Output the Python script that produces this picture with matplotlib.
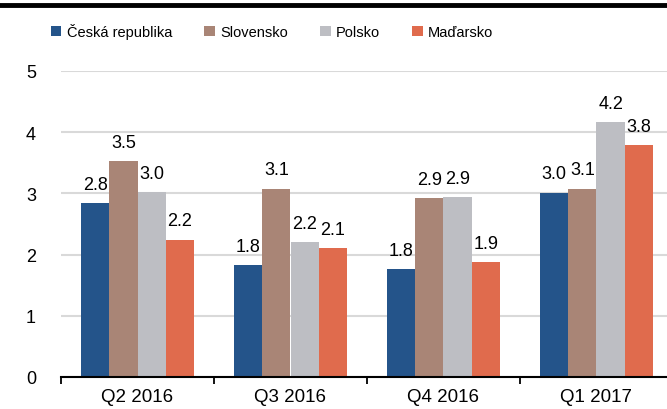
import numpy as np
import matplotlib
matplotlib.use("Agg")
import matplotlib.pyplot as plt
from matplotlib.patches import Patch
from matplotlib.lines import Line2D

plt.rcParams['font.family'] = ['Liberation Sans', 'DejaVu Sans']

quarters = ["Q2 2016", "Q3 2016", "Q4 2016", "Q1 2017"]
countries = ["Česká republika", "Slovensko", "Polsko", "Maďarsko"]
cz = [2.84, 1.83, 1.76, 3.01]
sk = [3.53, 3.08, 2.92, 3.08]
pl = [3.02, 2.20, 2.94, 4.16]
hu = [2.24, 2.10, 1.88, 3.79]
colors = ["#24548a", "#a98576", "#bdbec3", "#e06b4d"]

fig = plt.figure(figsize=(6.67, 4.10), dpi=100)
ax = fig.add_axes([61 / 667, 32 / 410, 612 / 667, 306 / 410])

x = np.arange(len(quarters))
w = 0.184
series = [cz, sk, pl, hu]
for i, (vals, c) in enumerate(zip(series, colors)):
    xs = x + (i - 1.5) * w
    ax.bar(xs, vals, width=w, color=c, zorder=3)
    for xi, v in zip(xs, vals):
        ax.annotate(f"{v:.1f}", (xi, v), xytext=(0, 7.5), textcoords="offset points",
                    ha="center", va="bottom", fontsize=13)

ax.set_xlim(-0.5, 3.5)
ax.set_ylim(0, 5)
ax.set_yticks(range(6))
ax.set_xticks(x)
ax.set_xticklabels(quarters, fontsize=13.5)
ax.tick_params(axis='x', length=0, pad=8)
ax.tick_params(axis='y', length=0, pad=18, labelsize=13)
ax.set_xticks(np.arange(-0.5, 4.0, 1.0), minor=True)
ax.tick_params(axis='x', which='minor', length=5, width=1.3, direction='out')
ax.grid(axis='y', color='#d9d9d9', linewidth=1.5, zorder=0)
for s in ['top', 'right', 'left']:
    ax.spines[s].set_visible(False)
ax.spines['bottom'].set_linewidth(1.5)
ax.spines['bottom'].set_zorder(4)

handles = [Patch(facecolor=c, edgecolor='none') for c in colors]
fig.legend(handles, countries, loc='center', bbox_to_anchor=(272 / 667, 1 - 32 / 410),
           ncol=4, frameon=False, fontsize=10.5, handlelength=0.75, handleheight=0.75,
           handletextpad=0.35, columnspacing=2.2, borderaxespad=0)

fig.add_artist(Line2D([0, 1], [1 - 6 / 410, 1 - 6 / 410], color='black', linewidth=3.5,
                      transform=fig.transFigure))

fig.savefig("out.png", dpi=100)
